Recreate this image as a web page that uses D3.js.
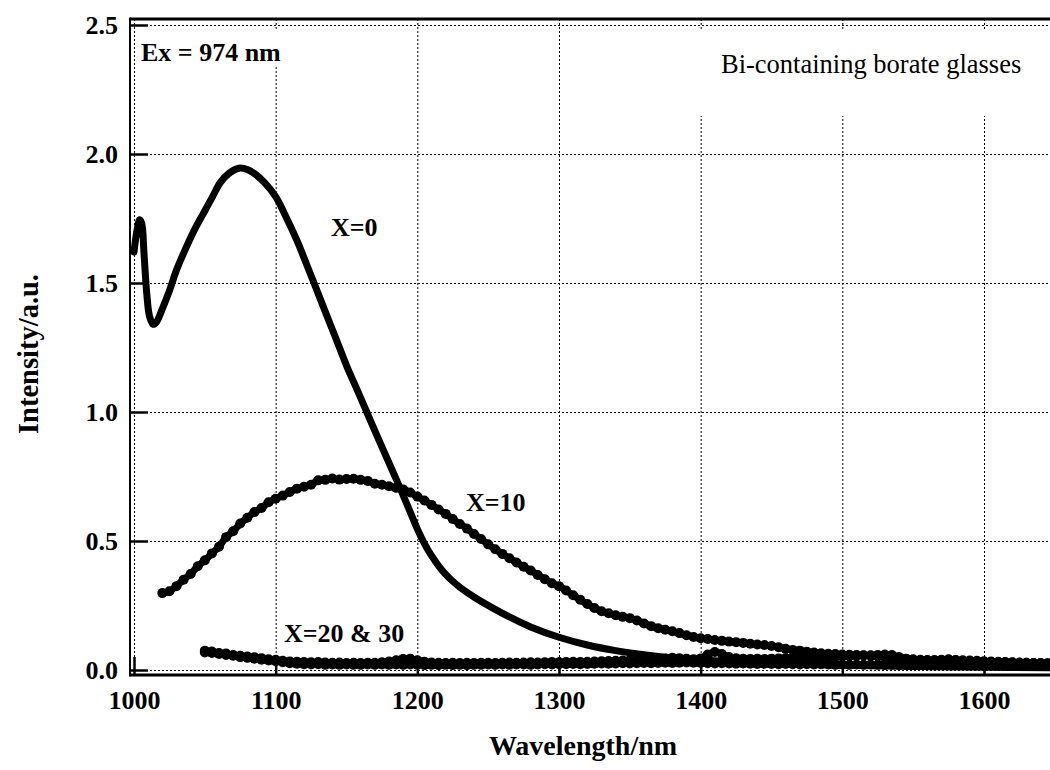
<!DOCTYPE html>
<html>
<head>
<meta charset="utf-8">
<script src="https://cdn.jsdelivr.net/npm/d3@7"></script>
<style>
  html, body { margin: 0; padding: 0; background: #fff; }
  svg { display: block; }
</style>
</head>
<body>
<svg id="chart" width="1050" height="770"></svg>
<script>
// Emission spectra of Bi-containing borate glasses (excitation 974 nm)

// Axis ticks
const xTicks = [1000, 1100, 1200, 1300, 1400, 1500, 1600];
const yTicks = [0.0, 0.5, 1.0, 1.5, 2.0, 2.5];

// X=0 : smooth spectrum
const x0Wavelength = [1000, 1002, 1004, 1005.5, 1007, 1009, 1011, 1013.5, 1016, 1020, 1025, 1030, 1037, 1043,
  1049, 1055, 1061, 1067, 1074, 1080, 1086, 1092, 1100, 1107, 1115, 1122, 1129, 1136, 1143, 1150, 1158,
  1166, 1175, 1182, 1188, 1195, 1200, 1205, 1210, 1215, 1220, 1225, 1230, 1240, 1253, 1265, 1280, 1300,
  1320, 1340, 1360, 1380, 1400, 1425, 1450, 1475, 1500, 1550, 1600, 1650];
const x0Intensity = [1.62, 1.70, 1.745, 1.73, 1.62, 1.46, 1.37, 1.34, 1.35, 1.40, 1.47, 1.55, 1.64, 1.71,
  1.77, 1.83, 1.89, 1.925, 1.945, 1.94, 1.92, 1.89, 1.835, 1.76, 1.665, 1.57, 1.473, 1.375, 1.278, 1.18, 1.08,
  0.978, 0.865, 0.778, 0.703, 0.612, 0.547, 0.490, 0.443, 0.404, 0.371, 0.344, 0.321, 0.283, 0.241, 0.206,
  0.167, 0.127, 0.097, 0.075, 0.059, 0.047, 0.039, 0.031, 0.025, 0.021, 0.018, 0.014, 0.011, 0.009];

// X=10 : sampled every 5 nm from 1020 nm
const x10Wavelength = d3.range(1020, 1646, 5);
const x10Intensity = [0.298, 0.305, 0.325, 0.350, 0.372, 0.402, 0.425, 0.452, 0.478, 0.515, 0.538, 0.568,
  0.590, 0.612, 0.628, 0.650, 0.664, 0.676, 0.690, 0.703, 0.710, 0.718, 0.735, 0.737, 0.742, 0.738, 0.740,
  0.741, 0.737, 0.733, 0.722, 0.718, 0.712, 0.706, 0.700, 0.688, 0.672, 0.657, 0.640, 0.622, 0.605, 0.585,
  0.566, 0.548, 0.527, 0.508, 0.487, 0.468, 0.450, 0.433, 0.417, 0.400, 0.386, 0.368, 0.352, 0.336, 0.325,
  0.308, 0.290, 0.272, 0.256, 0.240, 0.228, 0.220, 0.212, 0.206, 0.201, 0.192, 0.180, 0.170, 0.162, 0.156,
  0.150, 0.143, 0.135, 0.128, 0.123, 0.120, 0.116, 0.113, 0.110, 0.108, 0.105, 0.102, 0.099, 0.097, 0.093,
  0.088, 0.082, 0.078, 0.075, 0.071, 0.068, 0.065, 0.063, 0.062, 0.060, 0.059, 0.058, 0.057, 0.055, 0.052,
  0.050, 0.047, 0.045, 0.043, 0.042, 0.040, 0.039, 0.039, 0.040, 0.040, 0.039, 0.038, 0.037, 0.036, 0.034,
  0.033, 0.032, 0.031, 0.030, 0.029, 0.028, 0.027, 0.026, 0.026];

// X=20 and X=30 : sampled every 5 nm from 1050 nm
const x20Wavelength = d3.range(1050, 1646, 5);
const x20Intensity = [0.075, 0.072, 0.066, 0.064, 0.058, 0.055, 0.052, 0.049, 0.046, 0.042, 0.040, 0.036,
  0.033, 0.032, 0.031, 0.030, 0.031, 0.029, 0.028, 0.029, 0.027, 0.028, 0.027, 0.028, 0.028, 0.030, 0.033,
  0.038, 0.043, 0.044, 0.038, 0.032, 0.029, 0.028, 0.027, 0.028, 0.027, 0.028, 0.027, 0.028, 0.028, 0.027,
  0.028, 0.029, 0.028, 0.029, 0.030, 0.029, 0.030, 0.031, 0.030, 0.031, 0.032, 0.031, 0.032, 0.033, 0.034,
  0.035, 0.036, 0.037, 0.038, 0.039, 0.040, 0.042, 0.043, 0.045, 0.047, 0.046, 0.044, 0.042, 0.045, 0.060,
  0.070, 0.062, 0.050, 0.046, 0.044, 0.043, 0.044, 0.043, 0.044, 0.045, 0.046, 0.046, 0.047, 0.048, 0.049,
  0.050, 0.050, 0.051, 0.052, 0.053, 0.055, 0.056, 0.057, 0.058, 0.060, 0.058, 0.050, 0.044, 0.040, 0.038,
  0.037, 0.036, 0.038, 0.042, 0.038, 0.035, 0.034, 0.033, 0.032, 0.031, 0.030, 0.029, 0.029, 0.028, 0.028,
  0.027, 0.027, 0.026];
const x30Wavelength = d3.range(1050, 1646, 5);
const x30Intensity = [0.068, 0.066, 0.062, 0.058, 0.055, 0.050, 0.047, 0.044, 0.040, 0.037, 0.034, 0.030,
  0.026, 0.024, 0.022, 0.021, 0.022, 0.020, 0.021, 0.020, 0.021, 0.020, 0.020, 0.021, 0.020, 0.021, 0.020,
  0.021, 0.020, 0.021, 0.020, 0.019, 0.020, 0.019, 0.020, 0.019, 0.020, 0.019, 0.020, 0.020, 0.021, 0.020,
  0.021, 0.020, 0.021, 0.021, 0.020, 0.021, 0.022, 0.021, 0.022, 0.022, 0.023, 0.022, 0.023, 0.024, 0.025,
  0.024, 0.025, 0.026, 0.025, 0.026, 0.027, 0.026, 0.027, 0.028, 0.027, 0.028, 0.029, 0.028, 0.027, 0.026,
  0.025, 0.026, 0.025, 0.024, 0.025, 0.024, 0.023, 0.024, 0.023, 0.022, 0.023, 0.022, 0.021, 0.022, 0.021,
  0.022, 0.021, 0.020, 0.021, 0.020, 0.021, 0.020, 0.021, 0.020, 0.019, 0.020, 0.019, 0.020, 0.019, 0.020,
  0.019, 0.018, 0.019, 0.018, 0.019, 0.018, 0.017, 0.018, 0.017, 0.018, 0.017, 0.016, 0.017, 0.016, 0.017,
  0.016, 0.016, 0.016];

const zip = (xs, ys) => d3.zip(xs.slice(0, ys.length), ys.slice(0, xs.length));

// Layout
const plot = { left: 130, right: 1050, top: 19, bottom: 675 };
const serif = "'Liberation Serif', 'Times New Roman', serif";

const svg = d3.select("#chart");

const x = d3.scaleLinear().domain([1000, 1600]).range([134, 984]);
const y = d3.scaleLinear().domain([0, 2.5]).range([670, 25]);

svg.append("defs").append("clipPath").attr("id", "plotClip")
  .append("rect")
  .attr("x", plot.left).attr("y", plot.top)
  .attr("width", plot.right - plot.left).attr("height", plot.bottom - plot.top);

// Dotted grid
const grid = svg.append("g").attr("class", "grid")
  .attr("stroke", "#000").attr("stroke-width", 1).attr("stroke-dasharray", "2,2");
grid.selectAll("line.v").data(xTicks).join("line").attr("class", "v")
  .attr("x1", d => x(d) + 0.5).attr("x2", d => x(d) + 0.5)
  .attr("y1", plot.top).attr("y2", plot.bottom);
grid.selectAll("line.h").data(yTicks).join("line").attr("class", "h")
  .attr("y1", d => Math.round(y(d)) + 0.5).attr("y2", d => Math.round(y(d)) + 0.5)
  .attr("x1", plot.left).attr("x2", plot.right);

// White backing panels for the annotations
svg.append("rect").attr("x", 137).attr("y", 30).attr("width", 150).attr("height", 37).attr("fill", "#fff");
svg.append("rect").attr("x", 697).attr("y", 30).attr("width", 353).attr("height", 86).attr("fill", "#fff");

// Curves
const curves = svg.append("g").attr("clip-path", "url(#plotClip)");
const line = d3.line().x(d => x(d[0])).y(d => y(d[1])).curve(d3.curveCatmullRom.alpha(0.5));

function beaded(data) {
  curves.append("path").datum(data)
    .attr("d", line).attr("fill", "none").attr("stroke", "#000")
    .attr("stroke-width", 7).attr("stroke-linejoin", "round").attr("stroke-linecap", "round");
  curves.append("g").selectAll("circle").data(data).join("circle")
    .attr("cx", d => x(d[0])).attr("cy", d => y(d[1])).attr("r", 5).attr("fill", "#000");
}

beaded(zip(x30Wavelength, x30Intensity));
beaded(zip(x20Wavelength, x20Intensity));
beaded(zip(x10Wavelength, x10Intensity));

curves.append("path").datum(zip(x0Wavelength, x0Intensity))
  .attr("d", line).attr("fill", "none").attr("stroke", "#000")
  .attr("stroke-width", 7).attr("stroke-linejoin", "round").attr("stroke-linecap", "round");

// Axes (inward ticks)
const xAxis = d3.axisBottom(x).tickValues(xTicks).tickFormat(d3.format("d"))
  .tickSizeInner(-18).tickSizeOuter(0).tickPadding(16);
const gx = svg.append("g").attr("transform", `translate(0,${plot.bottom})`).call(xAxis);
gx.select(".domain").remove();
gx.selectAll(".tick line").attr("stroke", "#000").attr("stroke-width", 2.5);
gx.selectAll(".tick text").attr("font-family", serif).attr("font-size", 26).attr("font-weight", "bold").attr("fill", "#000");

const yAxis = d3.axisLeft(y).tickValues(yTicks).tickFormat(d3.format(".1f"))
  .tickSizeInner(-18).tickSizeOuter(0).tickPadding(12);
const gy = svg.append("g").attr("transform", `translate(${plot.left},0)`).call(yAxis);
gy.select(".domain").remove();
gy.selectAll(".tick line").attr("stroke", "#000").attr("stroke-width", 2.5);
gy.selectAll(".tick text").attr("font-family", serif).attr("font-size", 26).attr("font-weight", "bold").attr("fill", "#000")
  .attr("dy", "0.34em");

// Frame
svg.append("line").attr("x1", plot.left).attr("x2", plot.right).attr("y1", plot.top).attr("y2", plot.top)
  .attr("stroke", "#000").attr("stroke-width", 3);
svg.append("line").attr("x1", plot.left).attr("x2", plot.left).attr("y1", plot.top - 1.5).attr("y2", plot.bottom + 1.5)
  .attr("stroke", "#000").attr("stroke-width", 2);
svg.append("line").attr("x1", plot.left).attr("x2", plot.right).attr("y1", plot.bottom).attr("y2", plot.bottom)
  .attr("stroke", "#000").attr("stroke-width", 3);

// Text
const text = (t, px, py, size, weight, anchor) => svg.append("text")
  .attr("x", px).attr("y", py).attr("font-family", serif).attr("font-size", size)
  .attr("font-weight", weight).attr("text-anchor", anchor || "start").attr("fill", "#000").text(t);

text("Ex = 974 nm", 141, 61, 26, "bold");
text("Bi-containing borate glasses", 721, 73, 26.5, "normal");
text("X=0", 331, 236, 26, "bold");
text("X=10", 466, 511, 26, "bold");
text("X=20 & 30", 284, 642, 26, "bold");

text("Wavelength/nm", 583, 755, 28, "bold", "middle");
svg.append("text")
  .attr("transform", "translate(38,354) rotate(-90)")
  .attr("font-family", serif).attr("font-size", 28.5).attr("font-weight", "bold")
  .attr("text-anchor", "middle").attr("fill", "#000").text("Intensity/a.u.");
</script>
</body>
</html>
